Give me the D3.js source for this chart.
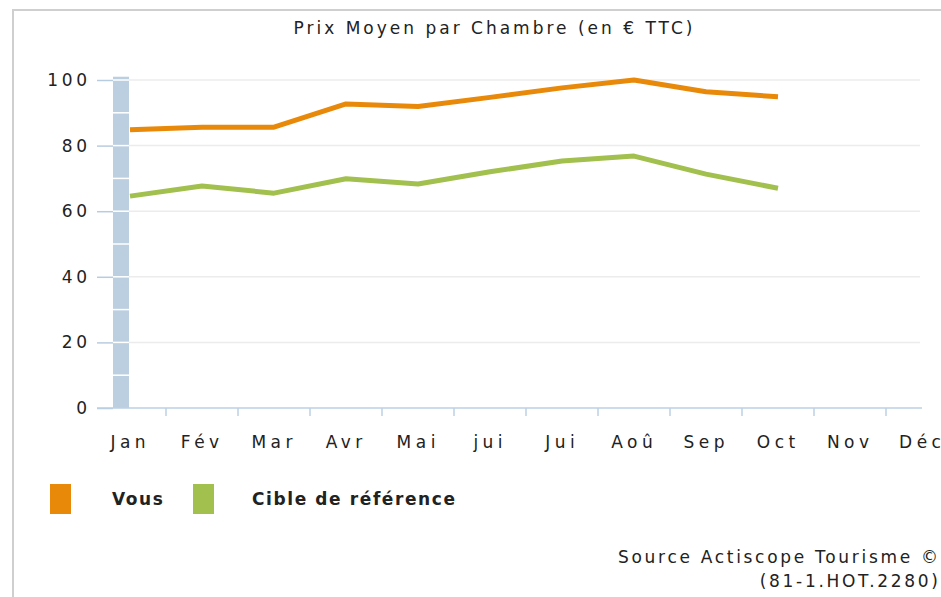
<!DOCTYPE html>
<html><head><meta charset="utf-8">
<script src="https://cdn.jsdelivr.net/npm/d3@7"></script>
<style>
html,body{margin:0;padding:0;background:#fff;}
svg{display:block;}
text{font-family:"DejaVu Sans",Verdana,sans-serif;fill:#222;}
</style></head><body>
<script>
const title = "Prix Moyen par Chambre (en € TTC)";
const months = ["Jan","Fév","Mar","Avr","Mai","jui","Jui","Aoû","Sep","Oct","Nov","Déc"];
const vous =  [84.8, 85.6, 85.6, 92.7, 91.9, 94.7, 97.6, 100.0, 96.4, 94.9];
const cible = [64.6, 67.7, 65.5, 69.9, 68.3, 72.0, 75.3, 76.8, 71.3, 67.0];
const yTicks = [0, 20, 40, 60, 80, 100];
const barValue = 101;
const barStripes = [10,20,30,40,50,60,70,80,90,100];
const seriesNames = ["Vous", "Cible de référence"];
const seriesColors = ["#e8890a", "#a2c04e"];
const sourceLines = ["Source Actiscope Tourisme ©", "(81-1.HOT.2280)"];

const W = 941, H = 597;
const svg = d3.select("body").append("svg").attr("width", W).attr("height", H);

// frame
svg.append("path").attr("d", `M13,${H+5} V10 H${W+5}`).attr("fill","none")
  .attr("stroke","#cfcfcf").attr("stroke-width",2);

const x = d3.scalePoint().domain(months).range([130, 922]);
const y = d3.scaleLinear().domain([0, 100]).range([408, 80]);
const step = x.step();

// title
const lsT = 3;
svg.append("text").attr("x", 493 + lsT/2).attr("y", 34).attr("text-anchor","middle")
  .attr("font-size", 17).attr("letter-spacing", lsT).text(title);

// gridlines
svg.append("g").selectAll("line").data(yTicks.filter(d => d > 0)).join("line")
  .attr("x1", 113).attr("x2", 920).attr("y1", d => y(d)).attr("y2", d => y(d))
  .attr("stroke", "#ececec").attr("stroke-width", 1.5);

// highlighted bar
svg.append("rect").attr("x", x(months[0]) - 17).attr("width", 16)
  .attr("y", y(barValue)).attr("height", y(0) - y(barValue)).attr("fill", "#bccfe0");
svg.append("g").selectAll("line").data(barStripes).join("line")
  .attr("x1", x(months[0]) - 17).attr("x2", x(months[0]) - 1)
  .attr("y1", d => y(d)).attr("y2", d => y(d))
  .attr("stroke", "#fff").attr("stroke-width", 1.5);

// y axis
const lsY = 3.7;
const yAxis = d3.axisLeft(y).tickValues(yTicks).tickSize(16).tickPadding(10);
const gy = svg.append("g").attr("transform", "translate(113,0)").call(yAxis);
gy.select(".domain").remove();
gy.selectAll(".tick line").attr("stroke", "#b8cce0").attr("stroke-width", 1.5);
gy.selectAll(".tick text").attr("font-size", 17).attr("fill", "#222")
  .attr("letter-spacing", lsY).attr("dx", lsY)
  .attr("font-family", '"DejaVu Sans",Verdana,sans-serif');

// x axis
svg.append("line").attr("x1", 97).attr("x2", 922).attr("y1", y(0)).attr("y2", y(0))
  .attr("stroke", "#bcd0e4").attr("stroke-width", 1.5);
svg.append("g").selectAll("line").data(months.slice(0, 11)).join("line")
  .attr("x1", d => x(d) + step/2).attr("x2", d => x(d) + step/2)
  .attr("y1", y(0)).attr("y2", y(0) + 8)
  .attr("stroke", "#bcd0e4").attr("stroke-width", 1.5);
const lsM = 4.5;
svg.append("g").selectAll("text").data(months).join("text")
  .attr("x", d => x(d) + lsM/2 - 2).attr("y", 448).attr("text-anchor", "middle")
  .attr("font-size", 17).attr("letter-spacing", lsM).text(d => d);

// lines
const line = d3.line().x((d, i) => x(months[i])).y(d => y(d));
[vous, cible].forEach((s, k) => {
  svg.append("path").datum(s).attr("d", line).attr("fill", "none")
    .attr("stroke", seriesColors[k]).attr("stroke-width", 5)
    .attr("stroke-linejoin", "round");
});

// legend
const legX = [50, 193], legTX = [112, 252];
seriesNames.forEach((n, k) => {
  svg.append("rect").attr("x", legX[k]).attr("y", 484).attr("width", 21).attr("height", 30)
    .attr("fill", seriesColors[k]);
  svg.append("text").attr("x", legTX[k]).attr("y", 505).attr("font-size", 17)
    .attr("letter-spacing", 1.6).attr("font-weight", "bold").text(n);
});

// source
const lsS = 2.7;
sourceLines.forEach((t, i) => {
  svg.append("text").attr("x", 938 + lsS).attr("y", 563 + i * 24).attr("text-anchor", "end")
    .attr("font-size", 17).attr("letter-spacing", lsS).text(t);
});
</script>
</body></html>
